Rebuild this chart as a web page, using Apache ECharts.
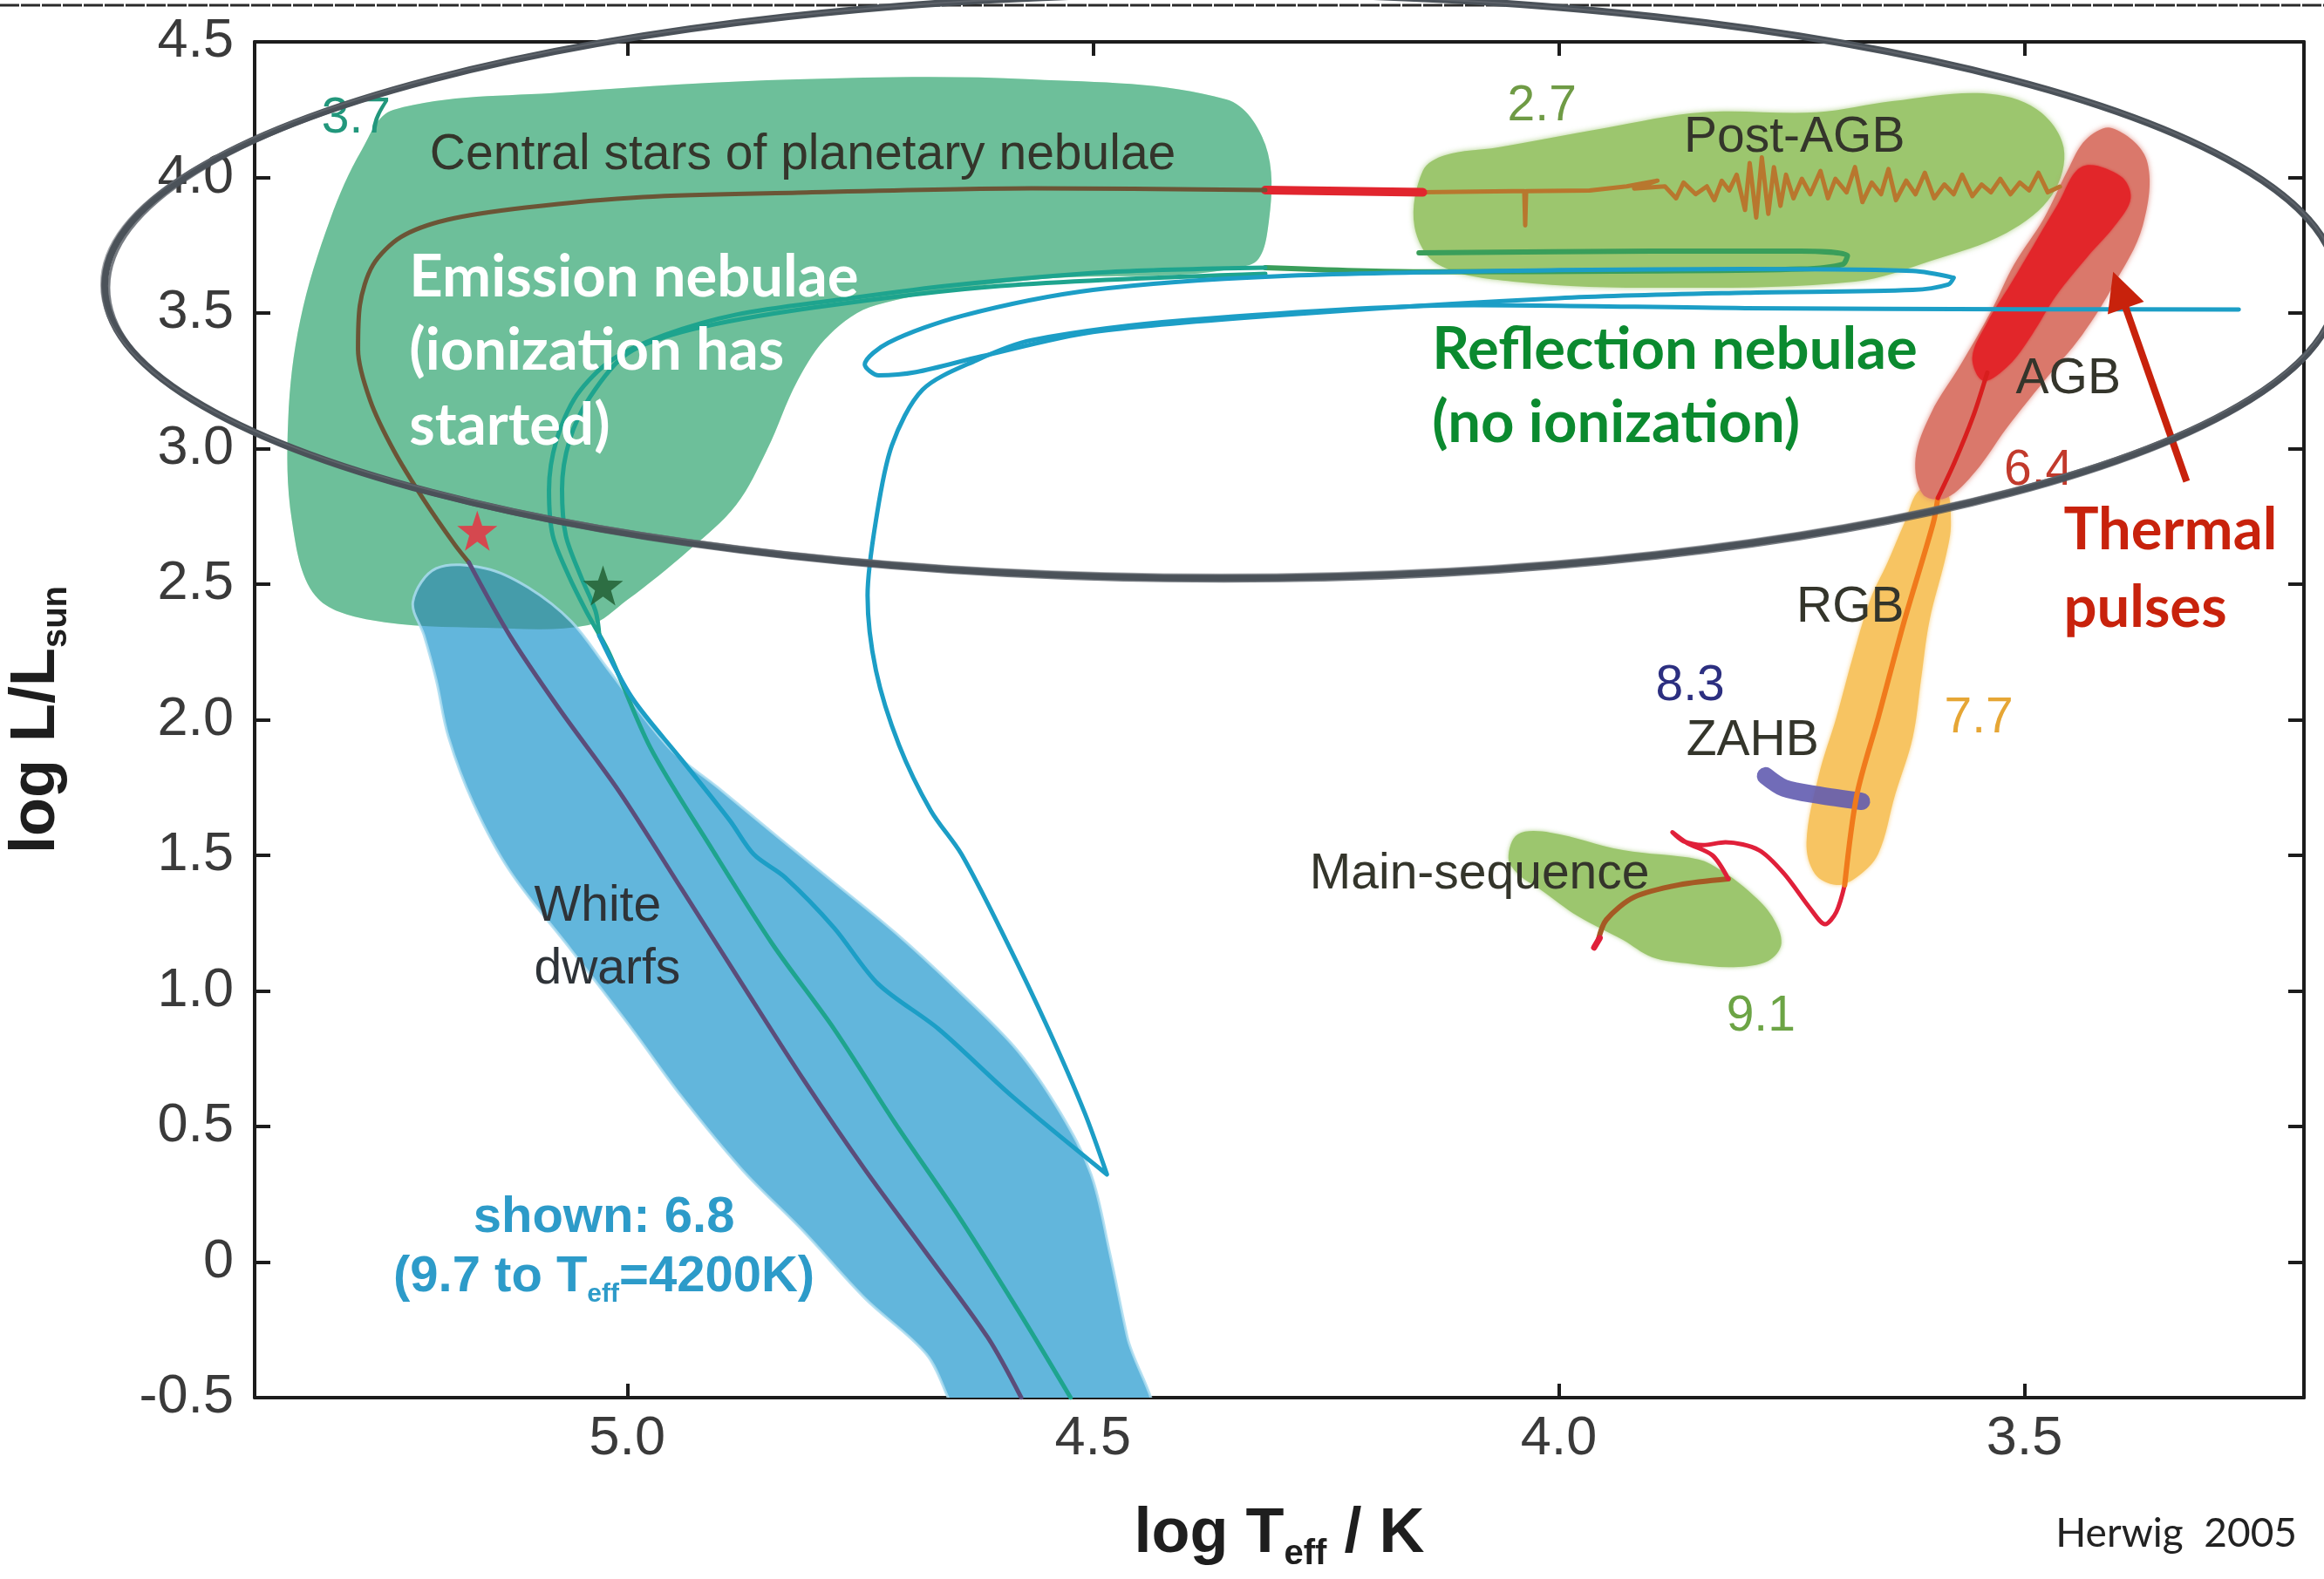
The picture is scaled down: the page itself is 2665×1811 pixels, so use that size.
<!DOCTYPE html>
<html>
<head>
<meta charset="utf-8">
<script src="https://cdn.jsdelivr.net/npm/echarts@6/dist/echarts.min.js"></script>
<style>
  html, body { margin: 0; padding: 0; background: #ffffff; }
  #chart { width: 2665px; height: 1811px; }
</style>
</head>
<body>
<div id="chart"></div>
<script>
// ---- Axes: log Teff (reversed) and log L/Lsun ----
const xRange = [3.2, 5.4];
const yRange = [-0.5, 4.5];
const xTickValues = [3.5, 4.0, 4.5, 5.0];

// ---- Shaded evolutionary regions, as [log Teff, log L] outlines ----
const regionCentralStars = [
  [5.251,4.249],[5.068,4.314],[4.817,4.362],[4.566,4.362],[4.357,4.288],[4.315,4.121],
  [4.311,3.844],[4.332,3.677],[4.566,3.622],[4.733,3.529],[4.783,3.420],[4.817,3.252],
  [4.850,2.995],[4.883,2.793],[4.934,2.625],[5.000,2.442],[5.042,2.349],[5.151,2.339],
  [5.276,2.368],[5.335,2.458],[5.360,2.735],[5.364,3.105],[5.351,3.474],[5.319,3.844],[5.285,4.101]
];
const regionPostAGB = [
  [4.146,4.024],[4.155,3.822],[4.130,3.680],[4.049,3.616],[3.886,3.593],[3.682,3.616],
  [3.600,3.693],[3.519,3.796],[3.470,3.937],[3.458,4.111],[3.487,4.252],[3.544,4.310],
  [3.642,4.281],[3.723,4.240],[3.845,4.240],[3.951,4.182],[4.065,4.111],[4.122,4.082]
];
const regionAGB = [
  [3.406,4.182],[3.369,4.066],[3.373,3.822],[3.406,3.593],[3.438,3.420],[3.479,3.249],
  [3.519,3.076],[3.552,2.918],[3.584,2.818],[3.609,2.831],[3.617,2.963],[3.600,3.133],
  [3.569,3.307],[3.536,3.506],[3.511,3.680],[3.479,3.850],[3.454,4.024],[3.434,4.140]
];
const regionThermalPulses = [
  [3.438,4.040],[3.397,4.005],[3.386,3.924],[3.403,3.822],[3.432,3.709],[3.466,3.564],
  [3.492,3.420],[3.517,3.307],[3.544,3.250],[3.556,3.336],[3.540,3.465],[3.515,3.606],
  [3.490,3.751],[3.465,3.896]
];
const regionRGB = [
  [3.579,2.725],[3.584,2.609],[3.602,2.365],[3.611,2.150],[3.620,1.934],[3.639,1.722],
  [3.657,1.506],[3.680,1.420],[3.702,1.391],[3.725,1.432],[3.734,1.548],[3.721,1.793],
  [3.702,2.008],[3.685,2.223],[3.666,2.439],[3.647,2.580],[3.629,2.725],[3.612,2.850],[3.585,2.850]
];
const regionMainSequence = [
  [4.054,1.490],[4.044,1.577],[4.009,1.584],[3.931,1.519],[3.850,1.485],[3.826,1.445],
  [3.794,1.362],[3.771,1.275],[3.761,1.175],[3.775,1.111],[3.812,1.088],[3.858,1.100],
  [3.900,1.125],[3.931,1.188],[3.979,1.275],[4.020,1.375],[4.044,1.432]
];
const regionWhiteDwarfs = [
  [5.230,2.436],[5.205,2.558],[5.152,2.558],[5.106,2.487],[5.060,2.362],[5.021,2.188],
  [4.955,1.896],[4.903,1.751],[4.837,1.564],[4.778,1.400],[4.712,1.214],[4.646,1.005],
  [4.581,0.780],[4.535,0.551],[4.502,0.323],[4.482,0.034],[4.463,-0.278],[4.440,-0.600],
  [4.630,-0.600],[4.679,-0.339],[4.745,-0.133],[4.811,0.114],[4.877,0.342],[4.942,0.612],
  [4.995,0.860],[5.060,1.150],[5.126,1.442],[5.165,1.690],[5.192,1.937],[5.205,2.146],[5.218,2.310]
];
const zahbBand = [[3.778,1.793],[3.758,1.748],[3.721,1.722],[3.675,1.699]];

// ---- Evolutionary tracks ----
const trackMainSequence = [[3.958,1.182],[3.949,1.262],[3.919,1.346],[3.871,1.391],[3.818,1.413]];
const trackZAMSTip = [[3.962,1.160],[3.956,1.195]];
const trackSubgiant = [
  [3.818,1.413],[3.835,1.500],[3.862,1.545],[3.878,1.585],[3.866,1.552],[3.845,1.538],
  [3.821,1.548],[3.785,1.519],[3.758,1.432],[3.730,1.304],[3.714,1.246],[3.702,1.291],[3.693,1.391]
];
const trackRGB = [[3.693,1.391],[3.680,1.722],[3.657,2.008],[3.629,2.365],[3.598,2.725],[3.593,2.818]];
const trackAGB = [[3.593,2.818],[3.575,2.950],[3.555,3.120],[3.540,3.280]];
const trackPostAGB = [
  [4.147,3.945],[4.049,3.949],[4.037,3.949],[4.036,3.823],[4.035,3.949],[3.967,3.952],
  [3.927,3.967],[3.894,3.988],[3.919,3.959],[3.886,3.967],[3.874,3.923],[3.866,3.981],
  [3.853,3.938],[3.841,3.967],[3.833,3.916],[3.825,3.988],[3.817,3.952],[3.809,4.010],
  [3.800,3.880],[3.795,4.053],[3.788,3.852],[3.782,4.074],[3.775,3.866],[3.769,4.038],
  [3.762,3.895],[3.756,4.010],[3.748,3.923],[3.739,3.995],[3.730,3.938],[3.719,4.024],
  [3.711,3.923],[3.703,3.995],[3.691,3.945],[3.682,4.038],[3.674,3.909],[3.664,3.981],
  [3.654,3.938],[3.646,4.031],[3.638,3.916],[3.627,3.988],[3.617,3.938],[3.607,4.017],
  [3.597,3.923],[3.586,3.974],[3.576,3.938],[3.567,4.010],[3.556,3.931],[3.546,3.974],
  [3.536,3.945],[3.526,3.995],[3.515,3.938],[3.505,3.981],[3.495,3.952],[3.485,4.017],
  [3.475,3.945],[3.462,3.966]
];
const trackTransition = [[4.315,3.953],[4.146,3.945]];
const trackCentralStar = [
  [4.315,3.953],[4.566,3.960],[4.817,3.944],[4.983,3.928],[5.109,3.889],[5.193,3.844],
  [5.243,3.780],[5.273,3.677],[5.287,3.529],[5.289,3.365],[5.276,3.178],[5.251,2.995],
  [5.218,2.809],[5.185,2.645],[5.170,2.580]
];
const trackCooling = [
  [5.170,2.580],[5.126,2.310],[5.073,2.040],[5.008,1.732],[4.942,1.378],[4.877,1.027],
  [4.811,0.674],[4.745,0.342],[4.679,0.034],[4.613,-0.278],[4.577,-0.500]
];
const trackGreenLoop = [
  [4.150,3.722],[3.900,3.728],[3.740,3.728],[3.690,3.712],[3.695,3.680],[3.740,3.662],
  [3.900,3.655],[4.150,3.652],[4.315,3.667]
];
const trackTealA = [
  [4.315,3.667],[4.482,3.651],[4.649,3.603],[4.775,3.548],[4.883,3.494],[4.959,3.420],
  [5.017,3.326],[5.054,3.198],[5.076,3.031],[5.084,2.847],[5.080,2.680],[5.063,2.532],
  [5.044,2.400],[5.020,2.250],[4.975,1.896],[4.909,1.523],[4.844,1.172],[4.778,0.860],
  [4.712,0.510],[4.646,0.178],[4.581,-0.175],[4.524,-0.500]
];
const trackTealB = [
  [4.315,3.645],[4.600,3.600],[4.800,3.520],[4.930,3.440],[5.000,3.350],[5.040,3.190],
  [5.062,3.030],[5.070,2.850],[5.066,2.680],[5.050,2.530],[5.034,2.400],[5.030,2.310]
];
const trackCyanDescent = [
  [5.030,2.310],[4.995,2.082],[4.942,1.854],[4.890,1.629],[4.864,1.503],[4.831,1.420],
  [4.778,1.233],[4.731,1.027],[4.666,0.860],[4.587,0.612],[4.485,0.323],[4.509,0.551],
  [4.548,0.860],[4.594,1.191],[4.641,1.503],[4.674,1.664],[4.708,1.905],[4.733,2.182],
  [4.742,2.458],[4.733,2.735],[4.716,3.011],[4.683,3.217],[4.625,3.326],[4.566,3.400],
  [4.398,3.474],[4.091,3.529],[3.800,3.518],[3.500,3.514],[3.270,3.513]
];
const trackCyanLoop = [
  [3.576,3.630],[3.620,3.655],[3.800,3.662],[4.000,3.658],[4.300,3.636],[4.500,3.585],
  [4.640,3.490],[4.720,3.390],[4.745,3.310],[4.730,3.270],[4.690,3.282],[4.620,3.340],
  [4.500,3.430],[4.300,3.492],[4.000,3.555],[3.800,3.575],[3.620,3.585],[3.582,3.605],[3.576,3.630]
];

// ---- Marked stars ----
const starRed = [[5.161, 2.697]];
const starGreen = [[5.026, 2.495]];

// ---- Thermal-pulse arrow (tail -> head) ----
const arrowCoords = [[3.326, 2.879], [3.398, 3.585]];

// ---- Nebula boundary ellipse (centre and semi-axes, data units) ----
const ellipseCenter = [4.3626, 3.600];
const ellipseRadius = [1.1985, 1.077];

// ---- Region / mass labels ----
const labelTexts = [
  '3.7', 'Central stars of planetary nebulae', '2.7', 'Post-AGB', 'AGB', '6.4', 'RGB',
  '8.3', 'ZAHB', '7.7', 'Main-sequence', '9.1', 'White', 'dwarfs',
  'shown: 6.8', '(9.7 to T_eff=4200K)'
];
const labelPositions = [
  [5.291,4.217],[5.212,4.082],[4.018,4.262],[3.747,4.146],[3.453,3.256],[3.485,2.918],[3.687,2.413],
  [3.859,2.124],[3.792,1.921],[3.549,2.005],[4.085,1.429],[3.783,0.905],[5.100,1.310],[5.100,1.079],
  [5.025,0.162],[5.025,-0.056]
];

// ---- Nebula annotations ----
const noteTexts = [
  'Emission nebulae', '(ionization has', 'started)',
  'Reflection nebulae', '(no ionization)',
  'Thermal', 'pulses'
];
const notePositions = [
  [5.234,3.632],[5.234,3.359],[5.234,3.085],
  [4.136,3.365],[4.136,3.092],
  [3.458,2.699],[3.458,2.413]
];

// ---------------------------------------------------------------
const SANS = 'Liberation Sans, Arial, Helvetica, sans-serif';
const HUMANIST = 'Lato, Open Sans, sans-serif';

const labelStyle = {
  '3.7':   { fill: '#22977c', align: 'center' },
  'Central stars of planetary nebulae': { fill: '#34352b', align: 'left' },
  '2.7':   { fill: '#6f9b45', align: 'center' },
  'Post-AGB': { fill: '#34352b', align: 'center' },
  'AGB':   { fill: '#34352b', align: 'center' },
  '6.4':   { fill: '#c23a2c', align: 'center' },
  'RGB':   { fill: '#34352b', align: 'center' },
  '8.3':   { fill: '#2c2f80', align: 'center' },
  'ZAHB':  { fill: '#34352b', align: 'center' },
  '7.7':   { fill: '#e6a635', align: 'center' },
  'Main-sequence': { fill: '#34352b', align: 'center' },
  '9.1':   { fill: '#6ca445', align: 'center' },
  'White': { fill: '#2e3338', align: 'left' },
  'dwarfs': { fill: '#2e3338', align: 'left' },
  'shown: 6.8': { fill: '#2d9bc9', align: 'center', bold: true },
  '(9.7 to T_eff=4200K)': { fill: '#2d9bc9', align: 'center', bold: true }
};
const noteColor = {
  'Emission nebulae': '#ffffff', '(ionization has': '#ffffff', 'started)': '#ffffff',
  'Reflection nebulae': '#0b8a2f', '(no ionization)': '#0b8a2f',
  'Thermal': '#c8220c', 'pulses': '#c8220c'
};

function regionSeries(name, pts, style, z) {
  return {
    type: 'custom', name, data: pts, z, clip: true, silent: true,
    encode: { x: 0, y: 1 },
    renderItem(params, api) {
      if (params.dataIndex !== 0) return null;
      const points = pts.map(p => api.coord(p));
      return { type: 'polygon', shape: { points, smooth: 0.35 }, style: Object.assign({}, style) };
    }
  };
}

function trackSeries(name, pts, color, width, z, smooth) {
  return {
    type: 'line', name, data: pts, z, silent: true, clip: true,
    showSymbol: false, symbol: 'none',
    smooth: smooth === false ? false : 0.3,
    lineStyle: { color, width, cap: 'round', join: 'round' }
  };
}

const STAR = 'path://M0,-10L2.35,-3.24L9.51,-3.09L3.8,1.24L5.88,8.09L0,4L-5.88,8.09L-3.8,1.24L-9.51,-3.09L-2.35,-3.24Z';

// The central-star region is painted in two passes (light base, then a translucent
// dark-teal wash) so that where it overlaps the white-dwarf band it reads as darker teal.
const series = [
  regionSeries('Central stars of PN base', regionCentralStars, { fill: 'rgb(178,252,188)' }, 1),
  regionSeries('Post-AGB', regionPostAGB, { fill: '#9cc66e', shadowBlur: 6, shadowColor: 'rgba(156,198,110,0.8)' }, 1),
  regionSeries('Main sequence', regionMainSequence, { fill: '#9cc66e', shadowBlur: 5, shadowColor: 'rgba(156,198,110,0.8)' }, 1),
  regionSeries('RGB', regionRGB, { fill: '#f7c462', shadowBlur: 5, shadowColor: 'rgba(247,196,98,0.8)' }, 1),
  regionSeries('White dwarfs', regionWhiteDwarfs, { fill: '#62b6dc' }, 2),
  regionSeries('Central stars of PN', regionCentralStars, { fill: 'rgba(40,130,120,0.5)' }, 2),
  regionSeries('White dwarfs rim', regionWhiteDwarfs, { fill: 'none', stroke: 'rgba(170,220,240,0.85)', lineWidth: 3 }, 2),
  regionSeries('AGB', regionAGB, { fill: '#da786b', shadowBlur: 6, shadowColor: 'rgba(218,120,107,0.8)' }, 2),
  regionSeries('Thermal pulses', regionThermalPulses, { fill: '#e2262a', shadowBlur: 3, shadowColor: 'rgba(226,38,42,0.8)' }, 3),
  trackSeries('ZAHB', zahbBand, 'rgba(98,92,176,0.9)', 20, 4),

  trackSeries('Main-sequence track', trackMainSequence, '#a55a24', 6, 5),
  trackSeries('ZAMS', trackZAMSTip, '#e0203a', 7, 5),
  trackSeries('Subgiant', trackSubgiant, '#e0203a', 5, 5),
  trackSeries('RGB track', trackRGB, '#f07a1c', 6, 5),
  trackSeries('AGB track', trackAGB, '#d81e1e', 5, 5),
  trackSeries('Post-AGB track', trackPostAGB, '#b8772e', 5, 5, false),
  trackSeries('Transition', trackTransition, '#e1252e', 10, 5, false),
  trackSeries('Central star', trackCentralStar, '#6b5536', 5, 5),
  trackSeries('Cooling', trackCooling, '#5b4d7a', 5, 5),
  trackSeries('Green loop', trackGreenLoop, '#3a9e5a', 6, 5),
  trackSeries('Teal A', trackTealA, '#1ea48e', 5, 5),
  trackSeries('Teal B', trackTealB, '#1ea48e', 5, 5),
  trackSeries('Cyan descent', trackCyanDescent, '#1c9ec6', 5, 5),
  trackSeries('Cyan loop', trackCyanLoop, '#1c9ec6', 5, 5),

  {
    type: 'scatter', name: 'Red star', data: starRed, z: 9, silent: true,
    symbol: STAR, symbolSize: 46, itemStyle: { color: '#ef2b3c' }
  },
  {
    type: 'scatter', name: 'Green star', data: starGreen, z: 9, silent: true,
    symbol: STAR, symbolSize: 46, itemStyle: { color: '#1d5a2d' }
  },
  {
    type: 'lines', name: 'Arrow', coordinateSystem: 'cartesian2d', z: 9, silent: true,
    symbol: ['none', 'triangle'], symbolSize: 44,
    lineStyle: { color: '#c8220c', width: 8, opacity: 1 },
    data: [{ coords: arrowCoords }]
  },
  {
    type: 'custom', name: 'Labels', data: labelPositions, z: 10, silent: true,
    encode: { x: 0, y: 1 },
    renderItem(params, api) {
      const i = params.dataIndex;
      const p = api.coord(labelPositions[i]);
      const text = labelTexts[i];
      const st = labelStyle[text];
      const weight = st.bold ? 'bold' : 'normal';
      const size = st.bold ? 58 : 57;
      const style = {
        fill: st.fill, align: st.align, verticalAlign: 'middle',
        fontFamily: SANS, fontSize: size, fontWeight: weight
      };
      if (text.indexOf('T_eff') >= 0) {
        style.text = '{a|(9.7 to T}{b|eff}{a|=4200K)}';
        style.rich = {
          a: { fill: st.fill, fontFamily: SANS, fontSize: size, fontWeight: weight, lineHeight: 70 },
          b: { fill: st.fill, fontFamily: SANS, fontSize: 30, fontWeight: weight, lineHeight: 24, verticalAlign: 'bottom' }
        };
      } else {
        style.text = text;
      }
      return { type: 'text', x: p[0], y: p[1], style };
    }
  },
  {
    type: 'custom', name: 'Notes', data: notePositions, z: 11, silent: true,
    encode: { x: 0, y: 1 },
    renderItem(params, api) {
      const i = params.dataIndex;
      const p = api.coord(notePositions[i]);
      return {
        type: 'text', x: p[0], y: p[1],
        style: {
          text: noteTexts[i], fill: noteColor[noteTexts[i]], align: 'left', verticalAlign: 'middle',
          fontFamily: HUMANIST, fontSize: 67, fontWeight: 'bold'
        }
      };
    }
  }
];

const axisColor = '#1c1c1c';
const tickLabel = { fontFamily: SANS, fontSize: 63, color: '#3a3a3a' };

const option = {
  animation: false,
  backgroundColor: '#ffffff',
  grid: { left: 292, right: 23, top: 48, bottom: 208, containLabel: false, outerBoundsMode: 'none' },
  xAxis: [
    {
      type: 'value', min: xRange[0], max: xRange[1], inverse: true, position: 'bottom',
      axisLine: { show: true, onZero: false, lineStyle: { color: axisColor, width: 4 } },
      axisTick: { show: true, inside: true, length: 16, customValues: xTickValues, lineStyle: { color: axisColor, width: 4 } },
      axisLabel: Object.assign({ customValues: xTickValues, margin: 16, formatter: v => v.toFixed(1) }, tickLabel),
      splitLine: { show: false },
      name: '{a|log T}{b|eff}{a| / K}',
      nameLocation: 'middle', nameGap: 114,
      nameTextStyle: {
        rich: {
          a: { fontFamily: SANS, fontSize: 72, fontWeight: 'bold', color: '#1e1e1e', lineHeight: 86 },
          b: { fontFamily: SANS, fontSize: 40, fontWeight: 'bold', color: '#1e1e1e', lineHeight: 30, verticalAlign: 'bottom' }
        }
      }
    },
    {
      type: 'value', min: xRange[0], max: xRange[1], inverse: true, position: 'top',
      axisLine: { show: true, onZero: false, lineStyle: { color: axisColor, width: 4 } },
      axisTick: { show: true, inside: true, length: 16, customValues: xTickValues, lineStyle: { color: axisColor, width: 4 } },
      axisLabel: { show: false, customValues: xTickValues },
      splitLine: { show: false }
    }
  ],
  yAxis: [
    {
      type: 'value', min: yRange[0], max: yRange[1], interval: 0.5, position: 'left',
      axisLine: { show: true, onZero: false, lineStyle: { color: axisColor, width: 4 } },
      axisTick: { show: true, inside: true, length: 18, lineStyle: { color: axisColor, width: 4 } },
      axisLabel: Object.assign({ margin: 24, formatter: v => (v === 0 ? '0' : v.toFixed(1)) }, tickLabel),
      splitLine: { show: false },
      name: '{a|log L/L}{b|sun}',
      nameLocation: 'middle', nameGap: 207,
      nameTextStyle: {
        rich: {
          a: { fontFamily: SANS, fontSize: 72, fontWeight: 'bold', color: '#1e1e1e', lineHeight: 86 },
          b: { fontFamily: SANS, fontSize: 40, fontWeight: 'bold', color: '#1e1e1e', lineHeight: 30, verticalAlign: 'bottom' }
        }
      }
    },
    {
      type: 'value', min: yRange[0], max: yRange[1], interval: 0.5, position: 'right',
      axisLine: { show: true, onZero: false, lineStyle: { color: axisColor, width: 4 } },
      axisTick: { show: true, inside: true, length: 18, lineStyle: { color: axisColor, width: 4 } },
      axisLabel: { show: false },
      splitLine: { show: false }
    }
  ],
  series
};

const chart = echarts.init(document.getElementById('chart'), null, { renderer: 'canvas', width: 2665, height: 1811 });
chart.setOption(option);

// Hand-drawn boundary ellipse between reflection and emission nebulae, plus credit and frame line
const c = chart.convertToPixel({ gridIndex: 0 }, ellipseCenter);
const edge = chart.convertToPixel({ gridIndex: 0 }, [ellipseCenter[0] - ellipseRadius[0], ellipseCenter[1] - ellipseRadius[1]]);
const rx = Math.abs(edge[0] - c[0]);
const ry = Math.abs(edge[1] - c[1]);
const pen = '#4b5259';

chart.setOption({
  graphic: [
    { type: 'line', z: 100, silent: true, shape: { x1: 0, y1: 6, x2: 2665, y2: 6 },
      style: { stroke: '#2a2a2a', lineWidth: 3, lineDash: [22, 2] } },
    { type: 'ellipse', z: 100, silent: true, shape: { cx: c[0], cy: c[1], rx: rx, ry: ry },
      style: { fill: 'none', stroke: pen, lineWidth: 8 } },
    { type: 'ellipse', z: 100, silent: true, shape: { cx: c[0] + 3, cy: c[1] + 2, rx: rx - 2, ry: ry + 2 },
      style: { fill: 'none', stroke: pen, lineWidth: 3, opacity: 0.75 } },
    { type: 'ellipse', z: 100, silent: true, shape: { cx: c[0] - 2, cy: c[1] - 2, rx: rx + 2, ry: ry - 2 },
      style: { fill: 'none', stroke: '#6a7077', lineWidth: 2, opacity: 0.6 } },
    { type: 'text', z: 100, silent: true, right: 31, top: 1736,
      style: { text: 'Herwig  2005', fill: '#222222', fontFamily: HUMANIST, fontSize: 46 } }
  ]
});
</script>
</body>
</html>
